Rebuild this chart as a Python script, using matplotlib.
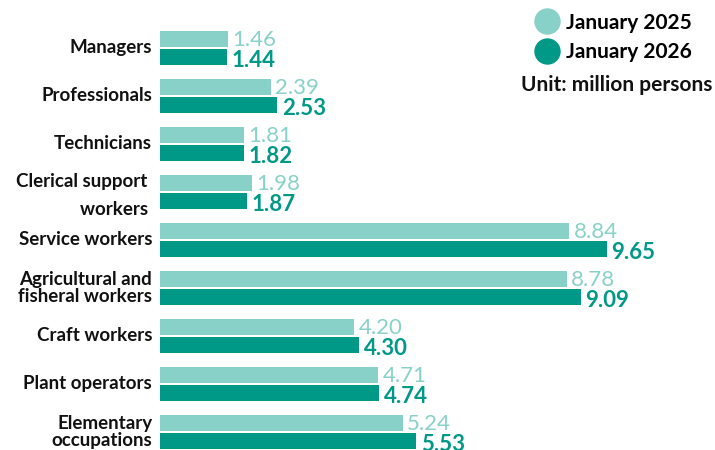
import matplotlib.pyplot as plt
from matplotlib.lines import Line2D
import numpy as np

categories = ['Managers', 'Professionals', 'Technicians', 'Clerical support \nworkers ',
              'Service workers', 'Agricultural and\nfisheral workers', 'Craft workers',
              'Plant operators', 'Elementary\noccupations']
jan2025 = [1.46, 2.39, 1.81, 1.98, 8.84, 8.78, 4.20, 4.71, 5.24]
jan2026 = [1.44, 2.53, 1.82, 1.87, 9.65, 9.09, 4.30, 4.74, 5.53]
series_names = ['January 2025', 'January 2026']

light = '#88d1c8'
dark = '#009886'
plt.rcParams['font.family'] = ['Lato', 'DejaVu Sans']

fig = plt.figure(figsize=(7.15, 4.5), dpi=100)
ax = fig.add_axes([160 / 715, 0, 1 - 160 / 715, 1])

y = np.arange(len(categories))
h = 0.333
off = 0.1875
ax.barh(y - off, jan2025, height=h, color=light)
ax.barh(y + off, jan2026, height=h, color=dark)

ax.set_xlim(0, 555 / 46.3)
ax.set_ylim(-1 + 450 / 48, -1)
ax.axis('off')

for i in range(len(categories)):
    ax.text(jan2025[i] + 0.1, y[i] - off + 0.02, f'{jan2025[i]:.2f}', color=light,
            fontsize=16, va='center', ha='left')
    ax.text(jan2026[i] + 0.1, y[i] + off + 0.07, f'{jan2026[i]:.2f}', color=dark,
            fontsize=16, fontweight='bold', va='center', ha='left')
    ls = 1.8 if i == 3 else 1.0
    dy = 0.07 if i == 3 else 0.0
    ax.text(-0.17, y[i] + dy, categories[i], ha='right', va='center', fontsize=13.5,
            fontweight='bold', color='#111111', linespacing=ls)

handles = [Line2D([], [], marker='o', linestyle='', markersize=18, color=c)
           for c in (light, dark)]
leg = fig.legend(handles, series_names, loc='upper right', bbox_to_anchor=(0.985, 1.0),
                 frameon=False, prop={'size': 15, 'weight': 'bold'},
                 handletextpad=0.3, labelspacing=0.45, borderaxespad=0.2,
                 handlelength=1.2)
fig.text(0.996, 0.812, 'Unit: million persons', ha='right', va='center',
         fontsize=15, fontweight='bold', color='#111111')

fig.savefig('out.png', dpi=100)
